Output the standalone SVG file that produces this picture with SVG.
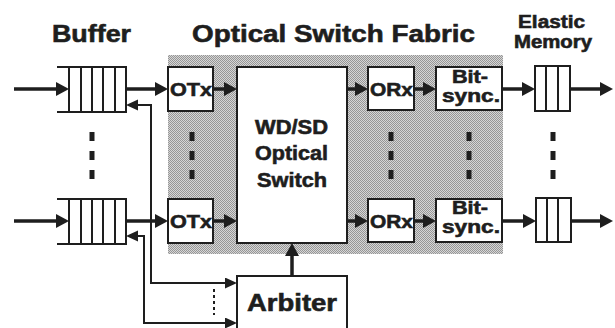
<svg xmlns="http://www.w3.org/2000/svg" width="615" height="328" viewBox="0 0 615 328">
  <defs>
    <pattern id="dither" patternUnits="userSpaceOnUse" width="2" height="2">
      <rect width="2" height="2" fill="#d6d6d6"/>
      <rect width="1" height="1" fill="#969696"/>
      <rect x="1" y="1" width="1" height="1" fill="#969696"/>
    </pattern>
    <marker id="ah" markerUnits="userSpaceOnUse" markerWidth="14" markerHeight="15" refX="0" refY="7" orient="auto-start-reverse">
      <path d="M0,0 L13,7 L0,14 z" fill="#1e1e1e"/>
    </marker>
    <marker id="ahs" markerUnits="userSpaceOnUse" markerWidth="13" markerHeight="12" refX="0" refY="5.5" orient="auto-start-reverse">
      <path d="M0,0 L12,5.5 L0,11 z" fill="#1e1e1e"/>
    </marker>
  </defs>
  <style>
    .box { fill: #ffffff; stroke: #1e1e1e; stroke-width: 2; }
    .q { fill: none; stroke: #1e1e1e; stroke-width: 2; }
    .t { font-family: "Liberation Sans", Arial, sans-serif; font-weight: bold; fill: #1e1e1e; stroke: #1e1e1e; stroke-width: 0.6; }
    .main { fill: none; stroke: #1e1e1e; stroke-width: 3.5; marker-end: url(#ah); }
    .thin { fill: none; stroke: #1e1e1e; stroke-width: 2; marker-start: url(#ahs); marker-end: url(#ahs); }
    .dot { fill: #1e1e1e; }
  </style>

  <!-- titles -->
  <text class="t" x="52" y="42" font-size="24" textLength="79" lengthAdjust="spacingAndGlyphs">Buffer</text>
  <text class="t" x="192" y="42" font-size="24" textLength="283" lengthAdjust="spacingAndGlyphs">Optical Switch Fabric</text>
  <text class="t" x="518" y="28" font-size="18" textLength="67" lengthAdjust="spacingAndGlyphs">Elastic</text>
  <text class="t" x="514" y="48" font-size="18" textLength="78" lengthAdjust="spacingAndGlyphs">Memory</text>

  <!-- fabric background -->
  <rect id="fabric" x="168" y="55" width="335" height="199" fill="url(#dither)"/>

  <!-- buffers -->
  <g id="buffer1">
    <path class="q" d="M57,67 H126 V112 H57 M69,67 V112 M81,67 V112 M92,67 V112 M103,67 V112 M115,67 V112"/>
  </g>
  <g id="buffer2">
    <path class="q" d="M57,199 H126 V244 H57 M69,199 V244 M81,199 V244 M92,199 V244 M103,199 V244 M115,199 V244"/>
  </g>

  <!-- OTx -->
  <g id="otx1">
    <rect class="box" x="168" y="67" width="45" height="44"/>
    <text class="t" x="170" y="96" font-size="19" textLength="42" lengthAdjust="spacingAndGlyphs">OTx</text>
  </g>
  <g id="otx2">
    <rect class="box" x="168" y="199" width="45" height="44"/>
    <text class="t" x="170" y="228" font-size="19" textLength="42" lengthAdjust="spacingAndGlyphs">OTx</text>
  </g>

  <!-- switch -->
  <g id="switch">
    <rect class="box" x="237" y="67" width="110" height="176"/>
    <text class="t" x="255" y="134" font-size="20" textLength="73" lengthAdjust="spacingAndGlyphs">WD/SD</text>
    <text class="t" x="255" y="160" font-size="20" textLength="73" lengthAdjust="spacingAndGlyphs">Optical</text>
    <text class="t" x="257" y="187" font-size="20" textLength="70" lengthAdjust="spacingAndGlyphs">Switch</text>
  </g>

  <!-- ORx -->
  <g id="orx1">
    <rect class="box" x="368" y="67" width="46" height="43"/>
    <text class="t" x="370" y="96" font-size="19" textLength="43" lengthAdjust="spacingAndGlyphs">ORx</text>
  </g>
  <g id="orx2">
    <rect class="box" x="368" y="199" width="46" height="43"/>
    <text class="t" x="370" y="228" font-size="19" textLength="43" lengthAdjust="spacingAndGlyphs">ORx</text>
  </g>

  <!-- Bit-sync -->
  <g id="bitsync1">
    <rect class="box" x="436" y="67" width="66" height="43"/>
    <text class="t" x="452" y="83" font-size="18" textLength="36" lengthAdjust="spacingAndGlyphs">Bit-</text>
    <text class="t" x="442" y="102" font-size="18" textLength="58" lengthAdjust="spacingAndGlyphs">sync.</text>
  </g>
  <g id="bitsync2">
    <rect class="box" x="436" y="199" width="66" height="43"/>
    <text class="t" x="452" y="214" font-size="18" textLength="36" lengthAdjust="spacingAndGlyphs">Bit-</text>
    <text class="t" x="442" y="233" font-size="18" textLength="58" lengthAdjust="spacingAndGlyphs">sync.</text>
  </g>

  <!-- Elastic memory -->
  <g id="em1">
    <rect class="box" x="535" y="66" width="35" height="45"/>
    <path class="q" d="M546,66 V111 M558,66 V111"/>
  </g>
  <g id="em2">
    <rect class="box" x="536" y="198" width="35" height="44"/>
    <path class="q" d="M547,198 V242 M558,198 V242"/>
  </g>

  <!-- Arbiter -->
  <g id="arbiter">
    <rect class="box" x="237" y="276" width="110" height="60"/>
    <text class="t" x="247" y="311" font-size="24" textLength="90" lengthAdjust="spacingAndGlyphs">Arbiter</text>
  </g>

  <!-- continuation dots -->
  <g id="dots">
    <rect class="dot" x="89.5" y="132" width="5" height="9"/>
    <rect class="dot" x="89.5" y="151" width="5" height="9"/>
    <rect class="dot" x="89.5" y="170" width="5" height="9"/>
    <rect class="dot" x="189.5" y="132" width="5" height="9"/>
    <rect class="dot" x="189.5" y="151" width="5" height="9"/>
    <rect class="dot" x="189.5" y="170" width="5" height="9"/>
    <rect class="dot" x="388.5" y="132" width="5" height="9"/>
    <rect class="dot" x="388.5" y="151" width="5" height="9"/>
    <rect class="dot" x="388.5" y="170" width="5" height="9"/>
    <rect class="dot" x="466.5" y="132" width="5" height="9"/>
    <rect class="dot" x="466.5" y="151" width="5" height="9"/>
    <rect class="dot" x="466.5" y="170" width="5" height="9"/>
    <rect class="dot" x="550.5" y="132" width="5" height="9"/>
    <rect class="dot" x="550.5" y="151" width="5" height="9"/>
    <rect class="dot" x="550.5" y="170" width="5" height="9"/>
  </g>

  <!-- connectors -->
  <g id="connectors">
    <path class="main" d="M14,89 H56"/>
    <path class="main" d="M126,89 H155"/>
    <path class="main" d="M213,89 H224"/>
    <path class="main" d="M347,89 H355"/>
    <path class="main" d="M414,89 H423"/>
    <path class="main" d="M502,89 H522"/>
    <path class="main" d="M570,89 H600"/>

    <path class="main" d="M14,221 H56"/>
    <path class="main" d="M126,221 H155"/>
    <path class="main" d="M213,221 H224"/>
    <path class="main" d="M347,221 H355"/>
    <path class="main" d="M414,221 H423"/>
    <path class="main" d="M502,221 H523"/>
    <path class="main" d="M571,221 H600"/>

    <path class="main" d="M292,276 V256"/>

    <path class="thin" d="M138,105 H151 V283 H225"/>
    <path class="thin" d="M138,236 H144 V323 H225"/>
    <path fill="none" stroke="#1e1e1e" stroke-width="2" stroke-dasharray="3,3" d="M214,289 V315"/>
  </g>
</svg>
